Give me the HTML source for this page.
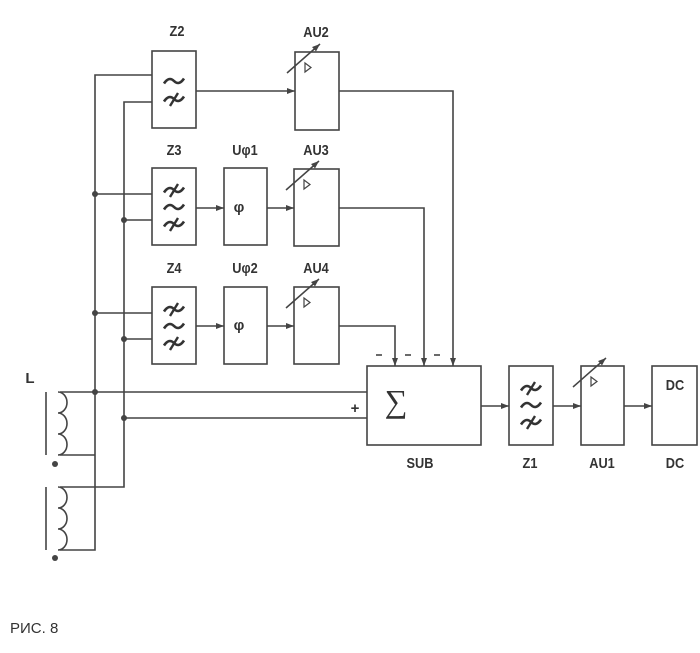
<!DOCTYPE html>
<html><head><meta charset="utf-8"><style>
html,body{margin:0;padding:0;background:#fff;}
svg{display:block;}
text{font-family:"Liberation Sans",sans-serif;fill:#333;}
</style></head><body>
<svg width="700" height="653" viewBox="0 0 700 653" xmlns="http://www.w3.org/2000/svg">
<defs>
<marker id="a" markerWidth="8" markerHeight="6" refX="8" refY="3" orient="auto" markerUnits="userSpaceOnUse"><path d="M0,0 L8,3 L0,6 Z" fill="#444"/></marker>
<g id="amp"><line x1="-8" y1="21" x2="25" y2="-8" stroke="#444" stroke-width="1.5" marker-end="url(#a)"/><path d="M10,11 L16,15.5 L10,20 Z" fill="none" stroke="#444" stroke-width="1.2"/></g>
<path id="t" d="M-10,2.5 q5,-7.5 10,-2.5 q5,5 10,-2.5" fill="none" stroke="#333" stroke-width="2.6"/>
<g id="tx"><use href="#t"/><line x1="-4" y1="7" x2="4" y2="-6" stroke="#333" stroke-width="2.4"/></g>
<path id="coil" d="M58,0 a9,10.5 0 0 1 0,21 a9,10.5 0 0 1 0,21 a9,10.5 0 0 1 0,21" fill="none" stroke="#444" stroke-width="1.6"/>
</defs>
<g stroke="#444" stroke-width="1.6" fill="none">
<rect x="152" y="51" width="44" height="77"/>
<rect x="152" y="168" width="44" height="77"/>
<rect x="152" y="287" width="44" height="77"/>
<rect x="224" y="168" width="43" height="77"/>
<rect x="224" y="287" width="43" height="77"/>
<rect x="295" y="52" width="44" height="78"/>
<rect x="294" y="169" width="45" height="77"/>
<rect x="294" y="287" width="45" height="77"/>
<rect x="367" y="366" width="114" height="79"/>
<rect x="509" y="366" width="44" height="79"/>
<rect x="581" y="366" width="43" height="79"/>
<rect x="652" y="366" width="45" height="79"/>
<polyline points="152,75 95,75 95,550 60,550"/>
<polyline points="152,102 124,102 124,487 60,487"/>
<line x1="95" y1="194" x2="152" y2="194"/>
<line x1="124" y1="220" x2="152" y2="220"/>
<line x1="95" y1="313" x2="152" y2="313"/>
<line x1="124" y1="339" x2="152" y2="339"/>
<line x1="60" y1="392" x2="367" y2="392"/>
<line x1="124" y1="418" x2="367" y2="418"/>
<line x1="60" y1="455" x2="95" y2="455"/>
<line x1="196" y1="91" x2="295" y2="91" marker-end="url(#a)"/>
<line x1="196" y1="208" x2="224" y2="208" marker-end="url(#a)"/>
<line x1="267" y1="208" x2="294" y2="208" marker-end="url(#a)"/>
<line x1="196" y1="326" x2="224" y2="326" marker-end="url(#a)"/>
<line x1="267" y1="326" x2="294" y2="326" marker-end="url(#a)"/>
<polyline points="339,91 453,91 453,366" marker-end="url(#a)"/>
<polyline points="339,208 424,208 424,366" marker-end="url(#a)"/>
<polyline points="339,326 395,326 395,366" marker-end="url(#a)"/>
<line x1="481" y1="406" x2="509" y2="406" marker-end="url(#a)"/>
<line x1="553" y1="406" x2="581" y2="406" marker-end="url(#a)"/>
<line x1="624" y1="406" x2="652" y2="406" marker-end="url(#a)"/>
<line x1="46" y1="392" x2="46" y2="455"/>
<line x1="46" y1="487" x2="46" y2="550"/>
<line x1="376" y1="355" x2="382" y2="355"/>
<line x1="405" y1="355" x2="411" y2="355"/>
<line x1="434" y1="355" x2="440" y2="355"/>
</g>
<use href="#coil" y="392"/>
<use href="#coil" y="487"/>
<g fill="#444">
<circle cx="95" cy="194" r="3"/><circle cx="124" cy="220" r="3"/>
<circle cx="95" cy="313" r="3"/><circle cx="124" cy="339" r="3"/>
<circle cx="95" cy="392" r="3"/><circle cx="124" cy="418" r="3"/>
<circle cx="55" cy="464" r="3"/><circle cx="55" cy="558" r="3"/>
</g>
<use href="#amp" x="295" y="52"/>
<use href="#amp" x="294" y="169"/>
<use href="#amp" x="294" y="287"/>
<use href="#amp" x="581" y="366"/>
<use href="#t" x="174" y="81"/><use href="#tx" x="174" y="99"/>
<use href="#tx" x="174" y="190"/><use href="#t" x="174" y="207"/><use href="#tx" x="174" y="224"/>
<use href="#tx" x="174" y="309"/><use href="#t" x="174" y="326"/><use href="#tx" x="174" y="343"/>
<use href="#tx" x="531" y="388"/><use href="#t" x="531" y="405"/><use href="#tx" x="531" y="422"/>
<g font-size="15" text-anchor="middle" font-weight="bold" style="font-stretch:condensed" fill="#3a3a3a">
<text x="177" y="36" transform="translate(177 0) scale(0.85 1) translate(-177 0)">Z2</text>
<text x="316" y="37" transform="translate(316 0) scale(0.85 1) translate(-316 0)">AU2</text>
<text x="174" y="155" transform="translate(174 0) scale(0.85 1) translate(-174 0)">Z3</text>
<text x="245" y="155" transform="translate(245 0) scale(0.85 1) translate(-245 0)">Uφ1</text>
<text x="316" y="155" transform="translate(316 0) scale(0.85 1) translate(-316 0)">AU3</text>
<text x="174" y="273" transform="translate(174 0) scale(0.85 1) translate(-174 0)">Z4</text>
<text x="245" y="273" transform="translate(245 0) scale(0.85 1) translate(-245 0)">Uφ2</text>
<text x="316" y="273" transform="translate(316 0) scale(0.85 1) translate(-316 0)">AU4</text>
<text x="239" y="212">φ</text><text x="239" y="330">φ</text>
<text x="420" y="468" transform="translate(420 0) scale(0.85 1) translate(-420 0)">SUB</text>
<text x="530" y="468" transform="translate(530 0) scale(0.85 1) translate(-530 0)">Z1</text>
<text x="602" y="468" transform="translate(602 0) scale(0.85 1) translate(-602 0)">AU1</text>
<text x="675" y="468" transform="translate(675 0) scale(0.85 1) translate(-675 0)">DC</text>
<text x="675" y="390" transform="translate(675 0) scale(0.85 1) translate(-675 0)">DC</text>
<text x="30" y="383">L</text>
<text x="355" y="413" font-size="15">+</text>
</g>
<text x="396" y="412" font-size="32" text-anchor="middle" style="font-family:'Liberation Serif',serif">∑</text>
<text x="10" y="633" font-size="15">РИС. 8</text>
</svg>
</body></html>
